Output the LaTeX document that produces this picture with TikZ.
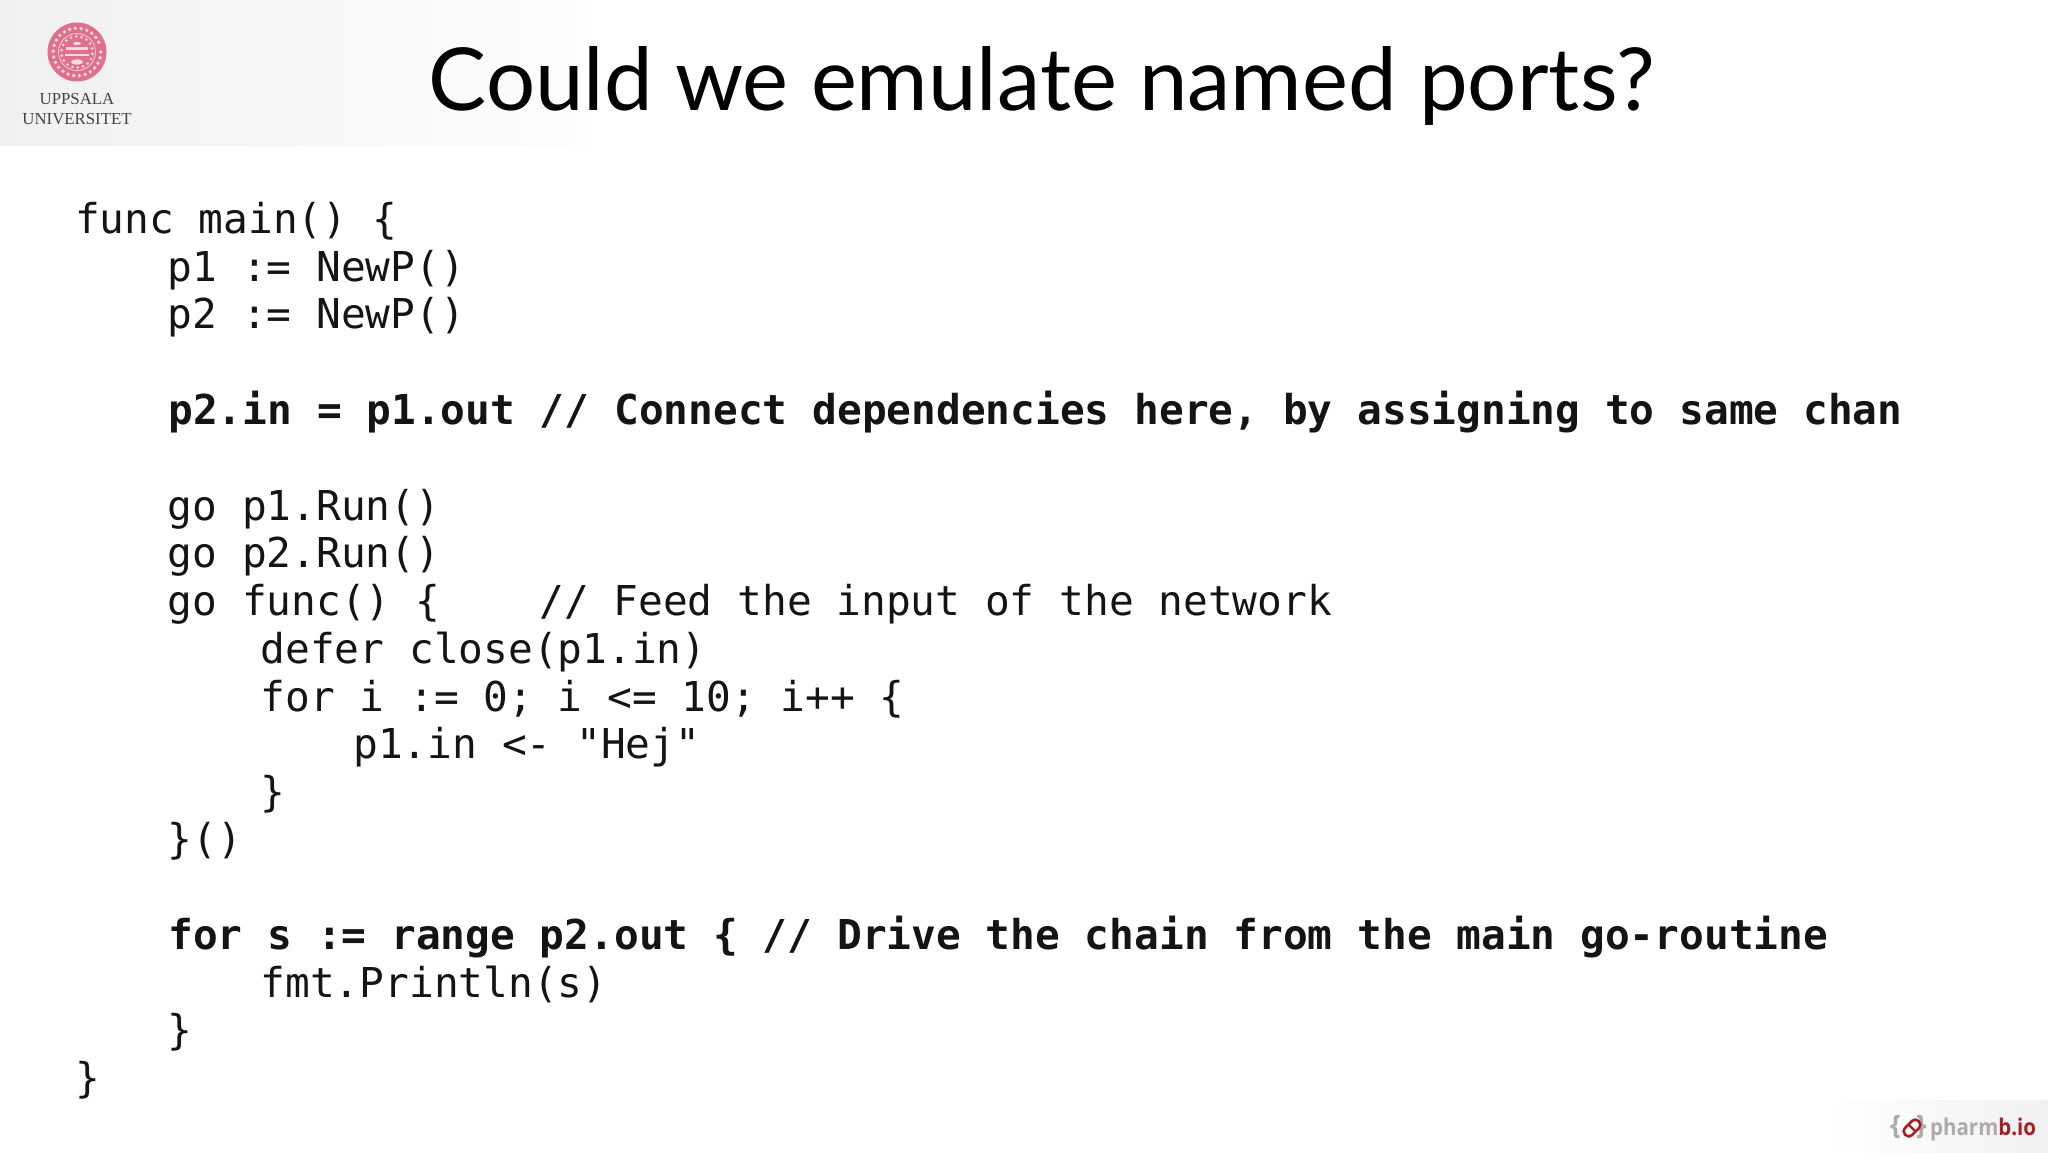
\documentclass[tikz,border=0pt]{standalone}
\usepackage{fontspec}
\setmainfont{Liberation Serif}
\newfontfamily\titlefont{Lato}
\newfontfamily\codefont{DejaVu Sans Mono}
\newfontfamily\logofont{Open Sans}
\newfontfamily\uufont{Liberation Serif}
\definecolor{seal}{HTML}{DF6F8A}
\definecolor{sealpale}{HTML}{F6DCE2}
\definecolor{band}{HTML}{F0F0F0}
\definecolor{bandend}{HTML}{FDFDFD}
\definecolor{uugrey}{HTML}{444444}
\definecolor{pbgrey}{HTML}{ABABAB}
\definecolor{pbred}{HTML}{A81E22}
\tikzset{
 x=1pt,y=-1pt,
 codeline/.style={anchor=base west,inner sep=0pt,outer sep=0pt,font=\codefont\fontsize{41.15}{48}\selectfont,text=black!92},
 boldline/.style={codeline,font=\codefont\bfseries\fontsize{41.15}{48}\selectfont},
 uutext/.style={anchor=base,inner sep=0pt,font=\uufont\fontsize{16.8}{20}\selectfont,text=uugrey},
 logotext/.style={anchor=base west,inner sep=0pt},
}
\begin{document}
\begin{tikzpicture}
\useasboundingbox (0,0) rectangle (2048,1152);
\fill[white] (0,0) rectangle (2048,1152);
% bands
\fill[left color=band,right color=bandend] (0,0) rectangle (592,145);
\fill[left color=white,right color=band] (1830,1100) rectangle (2048,1152);
% seal
\fill[seal] (77,52) circle (29.5);
\draw[sealpale,line width=0.7] (77,52) circle (18.5);
\foreach \a in {0,14,...,346}{\fill[sealpale] (77,52)++(\a:23.8) ellipse (1.9 and 1.9);}
\foreach \a in {7,27,...,347}{\fill[sealpale] (77,52)++(\a:15.6) circle (1.5);}
\fill[sealpale] (66,47) rectangle (88,49.5);
\fill[sealpale] (65,54) rectangle (89,56);
\fill[sealpale] (77,62) ellipse (6 and 2.6);
\fill[sealpale] (77,43.5) ellipse (4 and 1.6);
% university name
\node[uutext] (uu1) at (77,104) {UPPSALA};
\node[uutext] (uu2) at (77,124) {UNIVERSITET};
% title
\node[anchor=base,inner sep=0pt] (title) at (1042,110) {\titlefont\fontsize{86.9}{100}\selectfont Could we emulate named ports?};
% code
\node[codeline] (l1) at (75,233) {func main() \{};
\node[codeline] (l2) at (167.8,281) {p1 := NewP()};
\node[codeline] (l3) at (167.8,328) {p2 := NewP()};
\node[boldline] (l5) at (168.4,424) {p2.in = p1.out // Connect dependencies here, by assigning to same chan};
\node[codeline] (l7) at (167.8,520) {go p1.Run()};
\node[codeline] (l8) at (167.8,567) {go p2.Run()};
\node[codeline] (l9) at (167.8,615) {go func() \{};
\node[codeline] (l9b) at (539.3,615) {// Feed the input of the network};
\node[codeline] (l10) at (260.6,663) {defer close(p1.in)};
\node[codeline] (l11) at (260.6,711) {for i := 0; i <= 10; i++ \{};
\node[codeline] (l12) at (353.4,758) {p1.in <- "Hej"};
\node[codeline] (l13) at (260.6,806) {\}};
\node[codeline] (l14) at (167.8,853) {\}()};
\node[boldline] (l16) at (168.4,949) {for s := range p2.out \{ // Drive the chain from the main go-routine};
\node[codeline] (l17) at (260.6,997) {fmt.Println(s)};
\node[codeline] (l18) at (167.8,1044) {\}};
\node[codeline] (l19) at (75,1092) {\}};
% pharmb logo
\node[logotext,text=pbgrey] (brl) at (1890,1134) {\logofont\bfseries\fontsize{27}{32}\selectfont\{};
\node[logotext,text=pbgrey] (brr) at (1916,1134) {\logofont\bfseries\fontsize{27}{32}\selectfont\}};
\draw[pbred,line width=2.6,rotate around={45:(1912,1128)},rounded corners=4.5] (1902.5,1123) rectangle (1921.5,1133);
\draw[pbred,line width=2.2] (1908,1124) -- (1916,1132);
\node[logotext,xscale=0.89] (pb) at (1930,1135) {\logofont\fontsize{23}{26}\selectfont\textcolor{pbgrey}{\textbf{pharm}}\textcolor{pbred}{\textbf{b.io}}};
\end{tikzpicture}
\end{document}
